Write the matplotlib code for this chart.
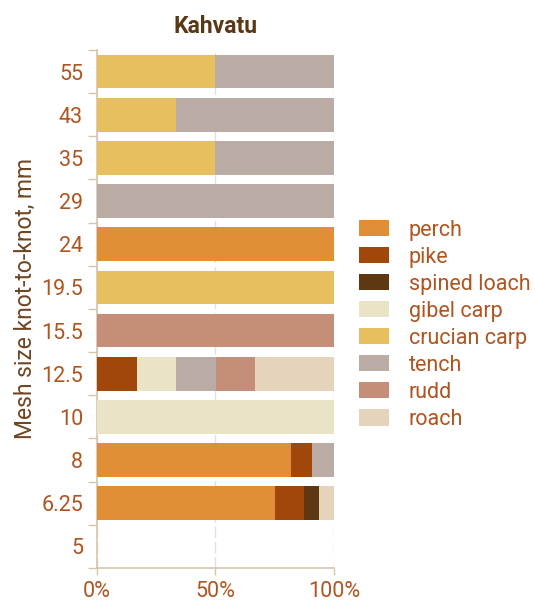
import matplotlib
matplotlib.use("Agg")
import matplotlib.pyplot as plt
import numpy as np

plt.rcParams['font.family'] = ['Roboto', 'DejaVu Sans']

categories = ["5", "6.25", "8", "10", "12.5", "15.5", "19.5", "24", "29", "35", "43", "55"]
species = ["perch", "pike", "spined loach", "gibel carp", "crucian carp", "tench", "rudd", "roach"]
colors = ["#E08F37", "#A0480C", "#5E3812", "#E9E4C6", "#E7BF5F", "#BBABA5", "#C48E79", "#E6D3BB"]

perch        = [0, 75.0, 81.8, 0,   0,    0,   0,   100, 0,   0,  0,    0]
pike         = [0, 12.5, 9.1,  0,   16.7, 0,   0,   0,   0,   0,  0,    0]
spined_loach = [0, 6.25, 0,    0,   0,    0,   0,   0,   0,   0,  0,    0]
gibel_carp   = [0, 0,    0,    100, 16.7, 0,   0,   0,   0,   0,  0,    0]
crucian_carp = [0, 0,    0,    0,   0,    0,   100, 0,   0,   50, 33.3, 50]
tench        = [0, 0,    9.1,  0,   16.7, 0,   0,   0,   100, 50, 66.7, 50]
rudd         = [0, 0,    0,    0,   16.6, 100, 0,   0,   0,   0,  0,    0]
roach        = [0, 6.25, 0,    0,   33.3, 0,   0,   0,   0,   0,  0,    0]

series = [perch, pike, spined_loach, gibel_carp, crucian_carp, tench, rudd, roach]

text_color = "#AE5520"
label_color = "#6E4520"
axis_color = "#D4C6AE"
fs = 15.5

fig = plt.figure(figsize=(5.35, 6.01), dpi=100)
ax = fig.add_axes([0.1813, 0.0549, 0.443, 0.862])

y = np.arange(len(categories))
left = np.zeros(len(categories))
handles = []
for name, vals, c in zip(species, series, colors):
    vals = np.array(vals, dtype=float)
    h = ax.barh(y, vals, left=left, height=0.78, color=c, label=name, zorder=3)
    handles.append(h)
    left += vals

ax.set_xlim(0, 100)
ax.set_ylim(-0.5, len(categories) - 0.5)

ax.set_xticks([0, 50, 100])
ax.set_xticklabels(["0%", "50%", "100%"])
ax.set_yticks(y)
ax.set_yticklabels(categories)
ax.set_yticks(np.arange(-0.5, len(categories), 1.0), minor=True)

ax.tick_params(axis='y', which='major', length=0, pad=10, labelsize=fs, labelcolor=text_color)
ax.tick_params(axis='y', which='minor', length=6.5, color=axis_color, width=1)
ax.tick_params(axis='x', which='major', length=5, color=axis_color, width=1, labelsize=fs, labelcolor=text_color, pad=4)

ax.grid(axis='x', color="#E6DFD2", linestyle=(0, (8, 3)), linewidth=1, zorder=0)

for s in ['top', 'right']:
    ax.spines[s].set_visible(False)
for s in ['left', 'bottom']:
    ax.spines[s].set_color(axis_color)
    ax.spines[s].set_linewidth(1.2)

ax.set_title("Kahvatu", fontsize=16.5, fontweight='bold', color="#5A3816", pad=12.5)
ax.set_ylabel("Mesh size knot-to-knot, mm", fontsize=16.5, color=label_color)
ax.yaxis.set_label_coords(-0.253, 0.52)

leg = fig.legend(handles=handles, labels=species, loc='upper left',
                 bbox_to_anchor=(0.654, 0.649), frameon=False,
                 fontsize=fs, handlelength=1.4, handleheight=0.8,
                 handletextpad=0.93, labelspacing=0.28, borderaxespad=0)
for t in leg.get_texts():
    t.set_color(text_color)

fig.savefig("out.png", dpi=100)
